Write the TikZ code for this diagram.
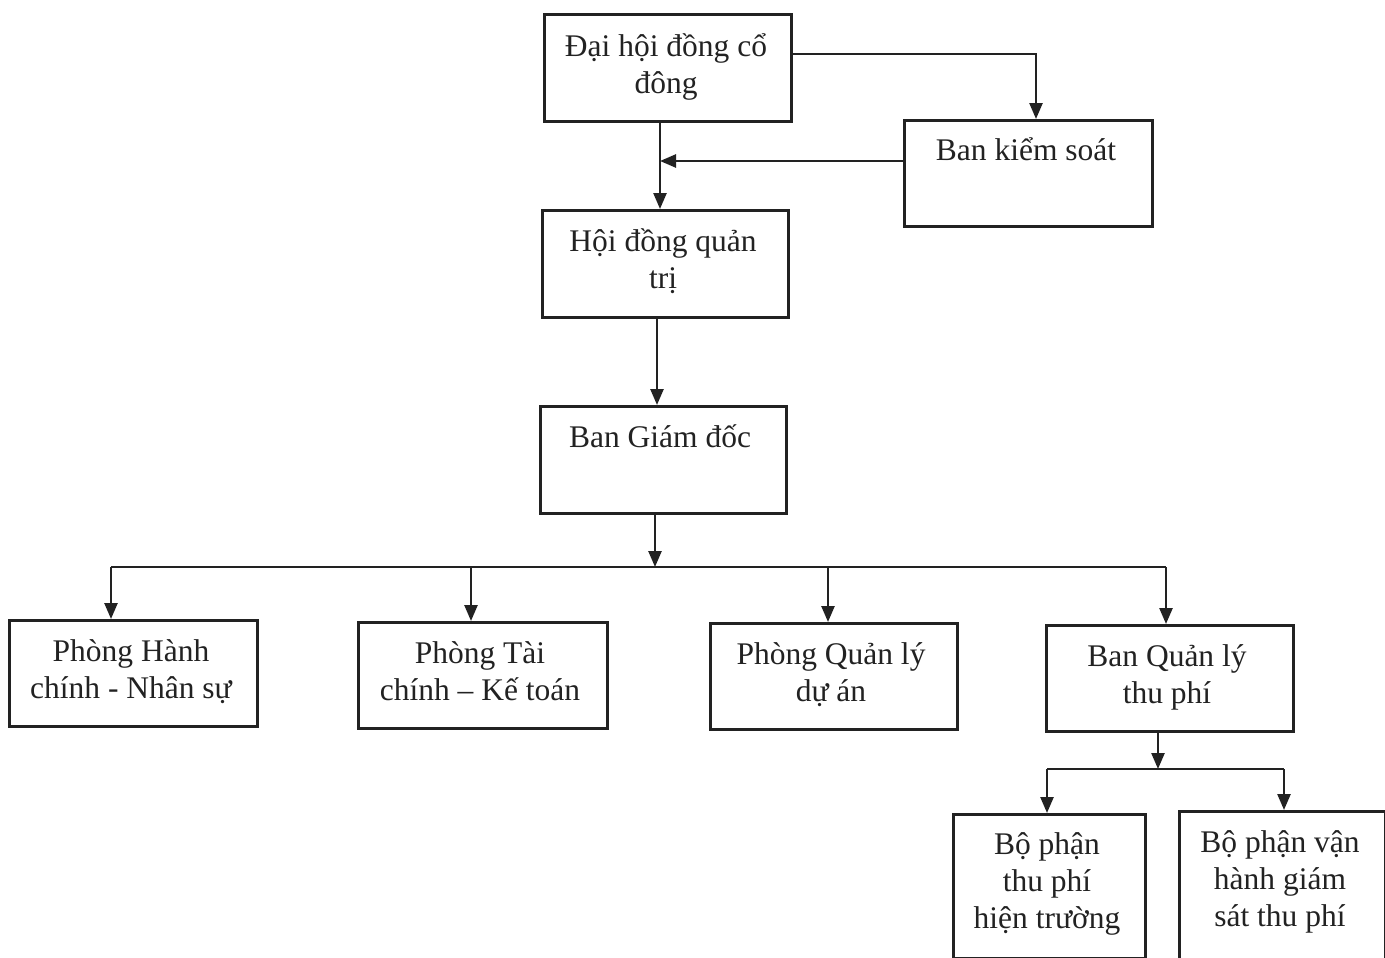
\documentclass[tikz,border=0pt]{standalone}
\usepackage{fontspec}
\setmainfont{Liberation Serif}
\usetikzlibrary{arrows.meta,calc}
\definecolor{ink}{HTML}{222222}
\begin{document}
\begin{tikzpicture}[x=1pt,y=-1pt,
  box/.style={draw=ink,line width=2.7pt,rectangle,inner sep=0pt,anchor=north west},
  lbl/.style={anchor=base,align=center,inner sep=0pt,text=ink,font=\fontsize{31.5}{37}\selectfont},
  arr/.style={draw=ink,line width=2.5pt,-{Triangle[length=16pt,width=13pt]}},
  ln/.style={draw=ink,line width=2.5pt}]
\useasboundingbox (0,0) rectangle (1385,958);
% boxes
\node[box,minimum width=247pt,minimum height=107pt] (dh) at (543,13) {};
\node[box,minimum width=248pt,minimum height=106pt] (bks) at (903,119) {};
\node[box,minimum width=246pt,minimum height=107pt] (hd) at (541,209) {};
\node[box,minimum width=246pt,minimum height=107pt] (bgd) at (539,405) {};
\node[box,minimum width=248pt,minimum height=106pt] (p1) at (8,619) {};
\node[box,minimum width=249pt,minimum height=106pt] (p2) at (357,621) {};
\node[box,minimum width=247pt,minimum height=106pt] (p3) at (709,622) {};
\node[box,minimum width=247pt,minimum height=106pt] (p4) at (1045,624) {};
\node[box,minimum width=192pt,minimum height=144pt] (b1) at (952,813) {};
\node[box,minimum width=206pt,minimum height=165pt] (b2) at (1178,810) {};
% labels (base anchor = baseline of last line)
\node[lbl] (tdh) at (666,93) {Đại hội đồng cổ\\đông};
\node[lbl] (tbks) at (1026,160) {Ban kiểm soát};
\node[lbl] (thd) at (663,288) {Hội đồng quản\\trị};
\node[lbl] (tbgd) at (660,447) {Ban Giám đốc};
\node[lbl] (tp1) at (131,698) {Phòng Hành\\chính - Nhân sự};
\node[lbl] (tp2) at (480,700) {Phòng Tài\\chính – Kế toán};
\node[lbl] (tp3) at (831,701) {Phòng Quản lý\\dự án};
\node[lbl] (tp4) at (1167,703) {Ban Quản lý\\thu phí};
\node[lbl] (tb1) at (1047,928) {Bộ phận\\thu phí\\hiện trường};
\node[lbl] (tb2) at (1280,926) {Bộ phận vận\\hành giám\\sát thu phí};
% helper coordinates
\coordinate (c1) at (1036,54);
\coordinate (c2) at (660,161);
\coordinate (c3) at (657,0);
\coordinate (bus) at (655,567);
\coordinate (busL) at (111,567);
\coordinate (busR) at (1166,567);
\coordinate (d2) at (471,567);
\coordinate (d3) at (828,567);
\coordinate (bus2) at (1158,769);
\coordinate (bus2L) at (1047,769);
\coordinate (bus2R) at (1284,769);
% connectors
\draw[arr] (dh.east |- c1) -| (bks.north -| c1);
\draw[arr] (dh.south -| c2) -- (hd.north -| c2);
\draw[arr] (bks.west |- c2) -- (c2);
\draw[arr] (hd.south -| c3) -- (bgd.north -| c3);
\draw[arr] (bgd.south -| bus) -- (bus);
\draw[ln] (busL) -- (busR);
\draw[arr] (busL) -- (p1.north -| busL);
\draw[arr] (d2) -- (p2.north -| d2);
\draw[arr] (d3) -- (p3.north -| d3);
\draw[arr] (busR) -- (p4.north -| busR);
\draw[arr] (p4.south -| bus2) -- (bus2);
\draw[ln] (bus2L) -- (bus2R);
\draw[arr] (bus2L) -- (b1.north -| bus2L);
\draw[arr] (bus2R) -- (b2.north -| bus2R);
\end{tikzpicture}
\end{document}
